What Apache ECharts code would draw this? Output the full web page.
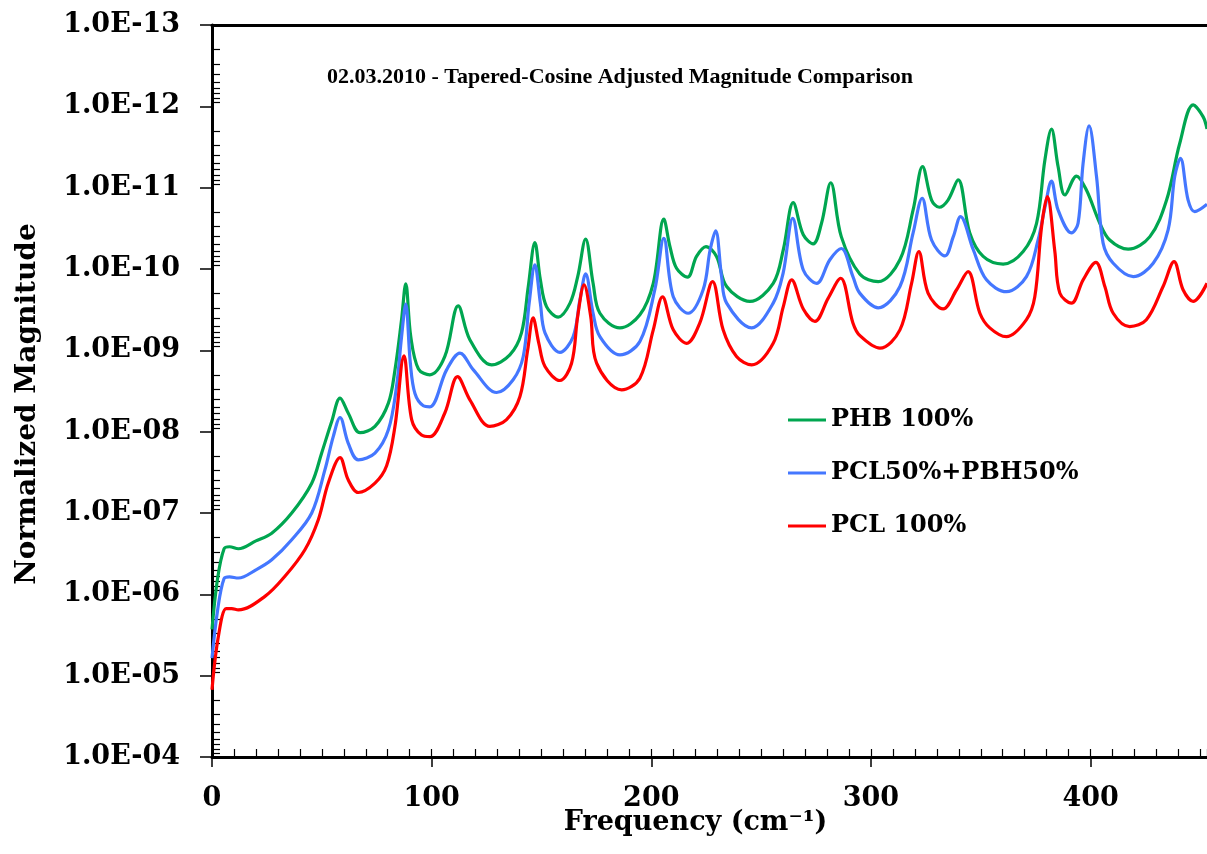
<!DOCTYPE html>
<html>
<head>
<meta charset="utf-8">
<title>Tapered-Cosine Adjusted Magnitude Comparison</title>
<script src="https://cdn.jsdelivr.net/npm/echarts@6/dist/echarts.min.js"></script>
<style>
  html, body { margin: 0; padding: 0; background: #fff; }
  #chart { width: 1207px; height: 854px; }
</style>
</head>
<body>
<div id="chart"></div>
<script>
var seriesNames = ['PHB 100%', 'PCL50%+PBH50%', 'PCL 100%'];

// PHB 100% (green)
var phbFreq = [0, 2.5, 5.5, 8, 12, 20, 27.2, 36.3, 45.4, 49.9, 54.5, 58.3, 62, 67.4, 74.2, 80.3, 83.3, 86.3, 88.2, 90.5, 94, 99.2,
  106, 112.1, 117.4, 127.3, 135.6, 140.9, 144, 147, 149.5, 152.3, 157.6, 163, 166.5, 170.1, 173.5, 176.6, 185.7, 194.8,
  200.9, 205.7, 208.5, 211.5, 216.5, 220.6, 224.9, 229.7, 234.3, 244.9, 255.5, 260.1, 264.6, 269.2, 273.7, 277.5, 281.7,
  286.5, 294.9, 303.3, 313.2, 319.2, 323.5, 327.6, 331.1, 335.1, 339.7, 345, 351.1, 360.2, 369.3, 375.4, 379.2, 382.2,
  385.2, 388.3, 393.6, 398.1, 404.2, 408.7, 417.1, 427, 434.6, 440.6, 446.7, 451.2, 453];
var phbMag = [2.7e-6, 6.5e-7, 2.75e-7, 2.6e-7, 2.75e-7, 2.2e-7, 1.77e-7, 1.0e-7, 4.3e-8, 1.84e-8, 7.5e-9, 3.87e-9, 5.9e-9, 1.03e-8, 8.6e-9, 4.46e-9, 1.74e-9, 4.2e-10, 1.52e-10, 6.8e-10, 1.7e-9, 2.0e-9,
  1.19e-9, 2.84e-10, 7.4e-10, 1.51e-9, 1.14e-9, 6.1e-10, 1.64e-10, 4.74e-11, 1.36e-10, 2.9e-10, 3.9e-10, 2.63e-10, 1.24e-10, 4.3e-11, 1.5e-10, 3.5e-10, 5.3e-10, 3.66e-10,
  1.5e-10, 2.44e-11, 5.3e-11, 9.8e-11, 1.26e-10, 7.0e-11, 5.3e-11, 7.0e-11, 1.64e-10, 2.5e-10, 1.5e-10, 5.8e-11, 1.53e-11, 3.8e-11, 4.9e-11, 2.74e-11, 8.7e-12,
  4.0e-11, 1.15e-10, 1.43e-10, 7.7e-11, 1.88e-11, 5.5e-12, 1.42e-11, 1.74e-11, 1.42e-11, 8.0e-12, 3.6e-11, 7.0e-11, 8.7e-11, 6.1e-11, 2.74e-11, 4.56e-12, 1.91e-12,
  5.5e-12, 1.23e-11, 7.2e-12, 1.07e-11, 2.74e-11, 4.4e-11, 5.7e-11, 4.0e-11, 1.42e-11, 2.84e-12, 9.6e-13, 1.34e-12, 1.9e-12];

// PCL50%+PBH50% (blue)
var mixFreq = [0, 2.5, 5.5, 8, 12, 20, 27.2, 36.3, 45.4, 51.4, 55.2, 58.3, 62, 66.6, 74.2, 80.3, 84, 86.3, 88.2, 90.3, 92.4, 96.2, 99.2,
  106.8, 112.9, 119, 129.6, 137.1, 141.7, 144.4, 147, 149.5, 151.6, 158.4, 164.4, 167.5, 170.1, 173.5, 176.6, 185.7, 194.8,
  201.6, 205.7, 210, 216.8, 223.6, 226.8, 229.3, 232, 234.3, 245.7, 255.5, 260, 264.4, 269.2, 275.3, 281.3, 286.5, 291.8,
  294.9, 303.3, 313.2, 319.2, 323.3, 327.6, 333.7, 337.5, 340.8, 346.6, 352.6, 361.7, 370.8, 376.1, 379.3, 382.2, 385.2,
  391.3, 394.3, 396.6, 399.3, 402.7, 405.7, 410.3, 419.4, 428.5, 435.3, 438.3, 440.9, 444.4, 447.4, 453];
var mixMag = [6.1e-6, 1.6e-6, 6.4e-7, 6.1e-7, 6.3e-7, 5.0e-7, 3.76e-7, 2.13e-7, 1.0e-7, 2.95e-8, 1.15e-8, 6.7e-9, 1.38e-8, 2.22e-8, 1.84e-8, 9.5e-9, 2.8e-9, 6.8e-10, 2.7e-10, 1.44e-9, 3.4e-9, 4.8e-9, 4.95e-9,
  1.74e-9, 1.08e-9, 1.74e-9, 3.3e-9, 2.3e-9, 1.19e-9, 2.63e-10, 8.9e-11, 2.63e-10, 6.1e-10, 1.06e-9, 6.8e-10, 2.4e-10, 1.15e-10, 3.5e-10, 6.8e-10, 1.14e-9, 7.8e-10,
  1.8e-10, 4.2e-11, 2.2e-10, 3.5e-10, 1.8e-10, 5.8e-11, 3.4e-11, 1.24e-10, 2.63e-10, 5.3e-10, 2.63e-10, 1.13e-10, 2.38e-11, 1.03e-10, 1.5e-10, 7.7e-11, 5.6e-11, 1.24e-10,
  1.98e-10, 3.0e-10, 1.64e-10, 3.6e-11, 1.35e-11, 4.4e-11, 6.9e-11, 4.0e-11, 2.27e-11, 5.8e-11, 1.36e-10, 1.9e-10, 1.24e-10, 4.4e-11, 1.7e-11, 8.3e-12, 1.88e-11,
  3.6e-11, 2.74e-11, 5.0e-12, 1.74e-12, 7.3e-12, 4.8e-11, 8.5e-11, 1.24e-10, 8.5e-11, 3.3e-11, 7.3e-12, 4.35e-12, 1.42e-11, 1.97e-11, 1.6e-11];

// PCL 100% (red)
var pclFreq = [0, 2.9, 6.5, 9, 12, 24.1, 33.2, 42.3, 48.4, 52.9, 58.3, 62, 66.6, 74.2, 79.5, 83.3, 87.4, 90.9, 95.4, 99.2,
  106, 111.8, 117.4, 126.5, 134.1, 140.2, 143.7, 146.2, 148.8, 151.6, 158.4, 163.7, 166.5, 169.4, 172.4, 175.1, 186.5, 194.8,
  200.9, 205.1, 210, 216.1, 222.1, 227.9, 232.7, 238.8, 245.7, 255.5, 260.1, 263.9, 269.2, 274.5, 280.5, 286.2, 291.8, 295,
  304.1, 313.2, 318.5, 321.8, 326, 332.9, 339, 344.2, 349.6, 354.1, 361.7, 370.8, 374.6, 377.7, 380.3, 383.7, 386,
  391.3, 396.6, 402.4, 406.5, 410.3, 417.8, 425.4, 433, 438, 442.1, 446.7, 453];
var pclMag = [1.49e-5, 3.3e-6, 1.5e-6, 1.5e-6, 1.55e-6, 1.06e-6, 6.0e-7, 2.83e-7, 1.21e-7, 4.3e-8, 2.08e-8, 3.9e-8, 5.6e-8, 4.3e-8, 2.63e-8, 8.6e-9, 1.17e-9, 7.1e-9, 1.1e-8, 1.15e-8,
  5.9e-9, 2.1e-9, 4.06e-9, 8.6e-9, 7.1e-9, 3.7e-9, 1.0e-9, 4.0e-10, 8.2e-10, 1.58e-9, 2.35e-9, 1.44e-9, 3.8e-10, 1.57e-10, 3.8e-10, 1.44e-9, 3.06e-9, 2.2e-9,
  5.6e-10, 2.2e-10, 5.6e-10, 8.2e-10, 4.6e-10, 1.43e-10, 5.6e-10, 1.19e-9, 1.51e-9, 8.2e-10, 2.9e-10, 1.36e-10, 3.1e-10, 4.4e-10, 2.3e-10, 1.3e-10, 4.6e-10, 6.6e-10,
  9.4e-10, 5.6e-10, 1.5e-10, 6.1e-11, 1.98e-10, 3.1e-10, 1.8e-10, 1.08e-10, 3.5e-10, 5.3e-10, 6.8e-10, 4.2e-10, 2.2e-10, 3.0e-11, 1.29e-11, 6.0e-11, 1.98e-10,
  2.63e-10, 1.36e-10, 8.3e-11, 1.64e-10, 3.5e-10, 5.1e-10, 4.2e-10, 1.64e-10, 8.1e-11, 1.8e-10, 2.5e-10, 1.5e-10];

var colors = ['#00a650', '#4477ff', '#ff0000'];
var yMin = 1e-13, yMax = 1e-4, xMax = 453;

function pairs(xs, ys) {
  return xs.map(function (x, i) { return [x, ys[i]]; });
}

// log-axis minor ticks 2..9 in every decade
var minorY = [];
for (var p = -13; p < -4; p++) {
  for (var k = 2; k <= 9; k++) minorY.push(k * Math.pow(10, p));
}

function expLabel(v) {
  var e = Math.round(Math.log(v) / Math.LN10);
  var a = Math.abs(e);
  return '1.0E' + (e < 0 ? '-' : '+') + (a < 10 ? '0' + a : a);
}

var labelFont = { fontFamily: 'DejaVu Serif', fontWeight: 'bold', color: '#000' };

var chart = echarts.init(document.getElementById('chart'));
chart.setOption({
  animation: false,
  backgroundColor: '#fff',
  title: {
    text: '02.03.2010 - Tapered-Cosine Adjusted Magnitude Comparison',
    left: 322, top: 61,
    textStyle: { fontFamily: 'Liberation Serif', fontWeight: 'bold', fontSize: 22, color: '#000' }
  },
  legend: {
    orient: 'vertical',
    left: 788, top: 405, padding: 0,
    itemWidth: 38, itemHeight: 3,
    itemGap: 23,
    icon: 'rect',
    data: seriesNames,
    textStyle: { fontFamily: 'DejaVu Serif', fontWeight: 'bold', fontSize: 24, color: '#000', lineHeight: 30 }
  },
  grid: { left: 212, right: 0, top: 25, bottom: 97, containLabel: false, outerBoundsMode: 'none' },
  xAxis: [{
    type: 'value', min: 0, max: xMax, interval: 100,
    name: 'Frequency (cm\u207B\u00B9)', nameLocation: 'middle', nameGap: 52, nameMoveOverlap: false,
    nameTextStyle: { fontFamily: 'DejaVu Serif', fontWeight: 'bold', fontSize: 27, color: '#000', padding: [0, 28, 0, 0] },
    axisLine: { lineStyle: { color: '#000', width: 3 } },
    axisTick: { length: 10, lineStyle: { color: '#000', width: 1.5 } },
    axisLabel: Object.assign({ fontSize: 27, margin: 28, showMaxLabel: false }, labelFont),
    splitLine: { show: false }
  }, {
    // minor ticks every 10, pointing inward
    type: 'value', min: 0, max: xMax, interval: 10, position: 'bottom',
    axisLine: { show: false },
    axisTick: { inside: true, length: 8, lineStyle: { color: '#000', width: 1.2 } },
    axisLabel: { show: false }, splitLine: { show: false }
  }, {
    // top border
    type: 'value', min: 0, max: xMax, position: 'top',
    axisLine: { lineStyle: { color: '#000', width: 3 } },
    axisTick: { show: false }, axisLabel: { show: false }, splitLine: { show: false }
  }],
  yAxis: [{
    type: 'log', logBase: 10, min: yMin, max: yMax, inverse: true,
    name: 'Normalized Magnitude', nameLocation: 'middle', nameRotate: 90, nameGap: 170, nameMoveOverlap: false,
    nameTextStyle: { fontFamily: 'DejaVu Serif', fontWeight: 'bold', fontSize: 28, color: '#000', padding: [0, 26, 0, 0] },
    axisLine: { lineStyle: { color: '#000', width: 3 } },
    axisTick: { length: 12, lineStyle: { color: '#000', width: 1.5 } },
    axisLabel: Object.assign({ fontSize: 27, margin: 32, formatter: expLabel }, labelFont),
    splitLine: { show: false }
  }, {
    type: 'log', logBase: 10, min: yMin, max: yMax, inverse: true, position: 'left',
    axisLine: { show: false },
    axisTick: { inside: true, length: 8, customValues: minorY, lineStyle: { color: '#000', width: 1.2 } },
    axisLabel: { show: false }, splitLine: { show: false }
  }],
  series: [
    { name: seriesNames[0], data: pairs(phbFreq, phbMag) },
    { name: seriesNames[1], data: pairs(mixFreq, mixMag) },
    { name: seriesNames[2], data: pairs(pclFreq, pclMag) }
  ].map(function (s, i) {
    return {
      name: s.name, type: 'line', data: s.data,
      xAxisIndex: 0, yAxisIndex: 0,
      symbol: 'none', smooth: 0.35,
      color: colors[i],
      lineStyle: { color: colors[i], width: 3.2 }
    };
  })
});
</script>
</body>
</html>
